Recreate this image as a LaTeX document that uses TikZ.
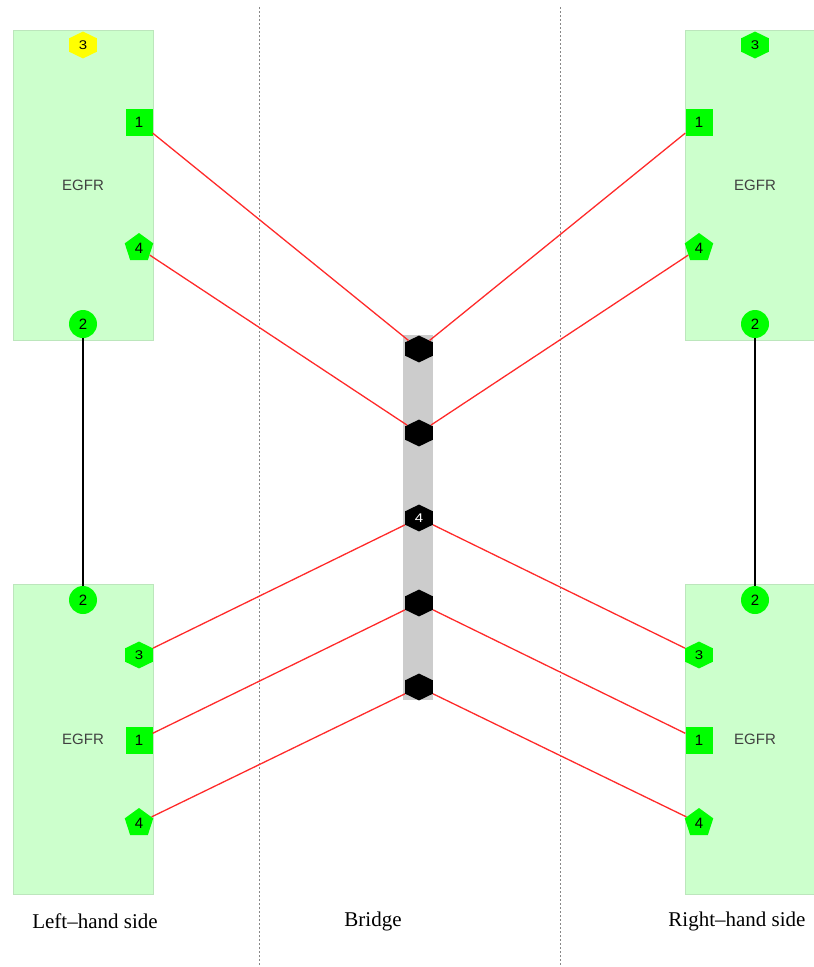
\documentclass[tikz,border=0pt]{standalone}
\usepackage{fontspec}
\setmainfont{Liberation Serif}
\setsansfont{Liberation Sans}
\usetikzlibrary{shapes.geometric}
\definecolor{domainfill}{HTML}{CCFFCC}
\definecolor{domainline}{HTML}{BCE6BC}
\definecolor{sitegreen}{HTML}{00FF00}
\definecolor{siteyellow}{HTML}{FFFF00}
\definecolor{bridgegray}{HTML}{CCCCCC}
\definecolor{linkred}{HTML}{FF2A2A}
\definecolor{dividergray}{HTML}{888888}

\begin{document}
\begin{tikzpicture}[
  x=1pt,
  y=-1pt,
  every node/.style={font=\sffamily\fontsize{15}{17}\selectfont, inner sep=0pt},
  domainbox/.style={rectangle, fill=domainfill, draw=domainline, line width=0.8pt,
    minimum width=140pt, minimum height=310pt, text=black!75, font=\sffamily\fontsize{15}{17}\selectfont},
  sitesquare/.style={rectangle, fill=sitegreen, minimum size=27pt},
  sitecircle/.style={circle, fill=sitegreen, minimum size=28pt},
  sitehex/.style={regular polygon, regular polygon sides=6, shape border rotate=30, fill=sitegreen, minimum size=32pt, yscale=0.84},
  sitepent/.style={regular polygon, regular polygon sides=5, fill=sitegreen, minimum size=30pt},
  bridgehex/.style={regular polygon, regular polygon sides=6, shape border rotate=30, fill=black, text=white, minimum size=32pt, yscale=0.84},
  sidelabel/.style={font=\rmfamily\fontsize{21}{24}\selectfont},
  divider/.style={dividergray, line width=0.9pt, dash pattern=on 2pt off 2pt},
  redlink/.style={linkred, line width=1.3pt},
  blacklink/.style={black, line width=1.3pt}
]
  \useasboundingbox (0,0) rectangle (814,967);

  \draw[divider] (259,7) -- (259,967);
  \draw[divider] (560,7) -- (560,967);

  % domains
  \node[domainbox] (ltbox) at (83,185) {EGFR};
  \node[domainbox] (lbbox) at (83,739) {EGFR};
  \node[domainbox] (rtbox) at (755,185) {EGFR};
  \node[domainbox] (rbbox) at (755,739) {EGFR};

  \fill[bridgegray] (403,335) rectangle (433,700);

  % left-hand side
  \node[sitehex, fill=siteyellow] (lt3) at (83,45) {3};
  \node[sitesquare] (lt1) at (139,122) {1};
  \node[sitepent] (lt4) at (139,248) {4};
  \node[sitecircle] (lt2) at (83,324) {2};
  \node[sitecircle] (lb2) at (83,600) {2};
  \node[sitehex] (lb3) at (139,655) {3};
  \node[sitesquare] (lb1) at (139,740) {1};
  \node[sitepent] (lb4) at (139,823) {4};

  % right-hand side
  \node[sitehex] (rt3) at (755,45) {3};
  \node[sitesquare] (rt1) at (699,122) {1};
  \node[sitepent] (rt4) at (699,248) {4};
  \node[sitecircle] (rt2) at (755,324) {2};
  \node[sitecircle] (rb2) at (755,600) {2};
  \node[sitehex] (rb3) at (699,655) {3};
  \node[sitesquare] (rb1) at (699,740) {1};
  \node[sitepent] (rb4) at (699,823) {4};

  % bridge
  \node[bridgehex] (bh1) at (419,349) {};
  \node[bridgehex] (bh2) at (419,433) {};
  \node[bridgehex] (bh3) at (419,518) {4};
  \node[bridgehex] (bh4) at (419,603) {};
  \node[bridgehex] (bh5) at (419,687) {};

  \draw[blacklink] (lt2) -- (lb2);
  \draw[blacklink] (rt2) -- (rb2);

  \draw[redlink] (lt1) -- (bh1);
  \draw[redlink] (lt4) -- (bh2);
  \draw[redlink] (lb3) -- (bh3);
  \draw[redlink] (lb1) -- (bh4);
  \draw[redlink] (lb4) -- (bh5);
  \draw[redlink] (rt1) -- (bh1);
  \draw[redlink] (rt4) -- (bh2);
  \draw[redlink] (rb3) -- (bh3);
  \draw[redlink] (rb1) -- (bh4);
  \draw[redlink] (rb4) -- (bh5);

  \node[sidelabel] (lhs) at (95,921) {Left--hand side};
  \node[sidelabel] (bridge) at (373,921) {Bridge};
  \node[sidelabel] (rhs) at (737,921) {Right--hand side};
\end{tikzpicture}
\end{document}
